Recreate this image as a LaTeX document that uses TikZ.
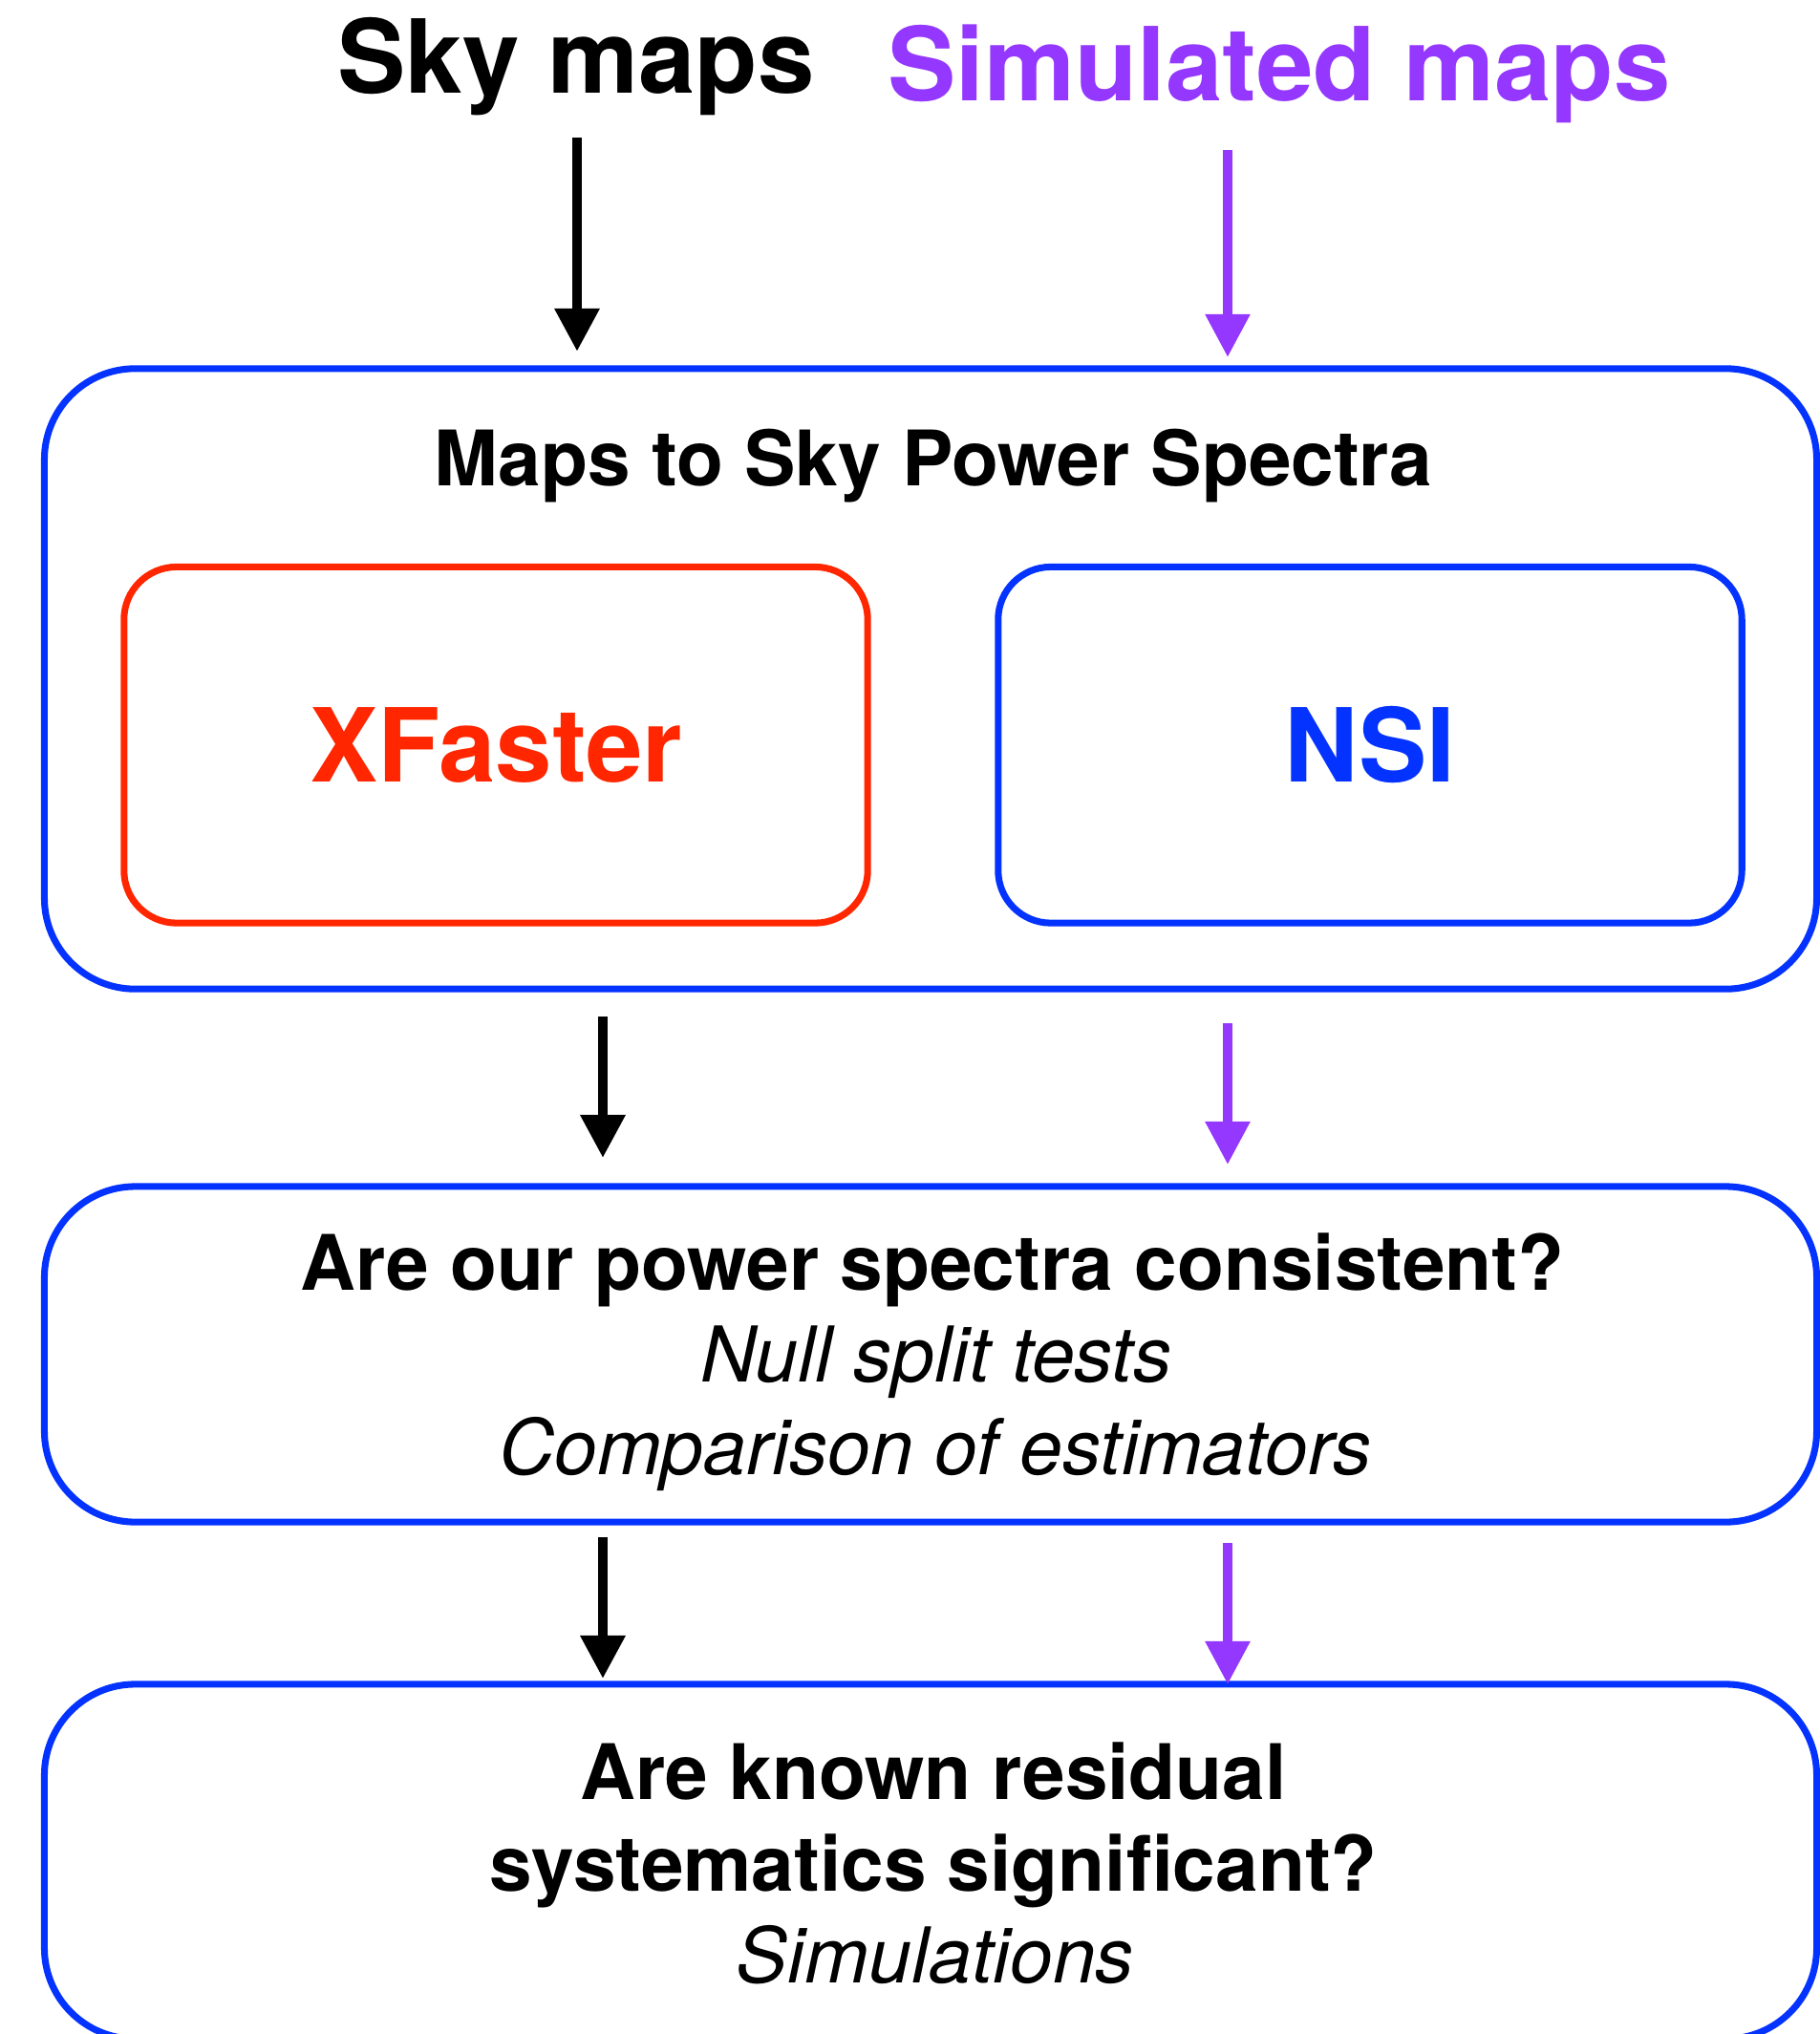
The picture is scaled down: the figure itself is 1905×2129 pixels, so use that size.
\documentclass[tikz,border=0pt]{standalone}
\usepackage{fontspec}
\setmainfont{TeX Gyre Heros}
\usetikzlibrary{arrows.meta}

\definecolor{kblue}{HTML}{0433FF}
\definecolor{kred}{HTML}{FF2600}
\definecolor{kpurple}{HTML}{9437FF}

\tikzset{
  stage/.style={draw=kblue, line width=2pt, rounded corners=0.95cm, outer sep=0pt,
    inner sep=0pt, minimum width=18.54cm},
  codebox/.style={line width=2pt, rounded corners=0.55cm, outer sep=0pt, inner sep=0pt,
    minimum width=7.78cm, minimum height=3.725cm},
  headtext/.style={anchor=base, font=\fontsize{22.8}{27}\selectfont\bfseries},
  notetext/.style={anchor=base, font=\fontsize{22.9}{27}\selectfont\itshape},
  bigtext/.style={anchor=base, font=\fontsize{30.4}{36}\selectfont\bfseries},
  skyarrow/.style={line width=2.8pt, -{Triangle[width=0.45cm,length=0.45cm]}},
  simarrow/.style={kpurple, line width=2.6pt, -{Triangle[width=0.45cm,length=0.45cm]}},
}

\begin{document}
\begin{tikzpicture}[x=0.01cm, y=-0.01cm]
\useasboundingbox (0,0) rectangle (1905,2129);

% inputs
\node[bigtext] (sky) at (603,97) {Sky maps};
\node[bigtext, text=kpurple] (sim) at (1339,105) {Simulated maps};

% the two streams
\coordinate (skyin) at (604,144);
\coordinate (simin) at (1285,157);
\coordinate (skylane) at (631,0);
\coordinate (simlane) at (1285,0);

% maps -> spectra
\node[stage, minimum height=6.49cm] (spectra) at (974,710.5) {};
\node[headtext] (spectitle) at (977,508.7) {Maps to Sky Power Spectra};
\node[codebox, draw=kred] (xfbox) at (519,779.75) {};
\node[codebox, draw=kblue] (nsibox) at (1434,779.75) {};
\node[bigtext, text=kred] (xf) at (519,818.5) {XFaster};
\node[bigtext, text=kblue] (nsi) at (1434,818.5) {NSI};

% consistency
\node[stage, minimum height=3.51cm] (consist) at (974,1417.5) {};
\node[headtext] (constitle) at (976,1350.7) {Are our power spectra consistent?};
\node[notetext] (nulls) at (980,1446) {Null split tests};
\node[notetext] (compare) at (979,1543.6) {Comparison of estimators};

% systematics
\node[stage, minimum height=3.71cm] (resid) at (974,1948.5) {};
\node[headtext] (residA) at (977,1883) {Are known residual};
\node[headtext] (residB) at (977,1979) {systematics significant?};
\node[notetext] (sims) at (979,2075) {Simulations};

% arrows
\draw[skyarrow, shorten >=0.18cm] (skyin) -- (skyin |- spectra.north);
\draw[simarrow, shorten >=0.12cm] (simin) -- (simin |- spectra.north);
\draw[skyarrow, shorten <=0.29cm, shorten >=0.30cm] (skylane |- spectra.south) -- (skylane |- consist.north);
\draw[simarrow, shorten <=0.36cm, shorten >=0.23cm] (simlane |- spectra.south) -- (simlane |- consist.north);
\draw[skyarrow, shorten <=0.16cm, shorten >=0.06cm] (skylane |- consist.south) -- (skylane |- resid.north);
\draw[simarrow, shorten <=0.22cm] (simlane |- consist.south) -- (simlane |- resid.north);

\end{tikzpicture}
\end{document}
